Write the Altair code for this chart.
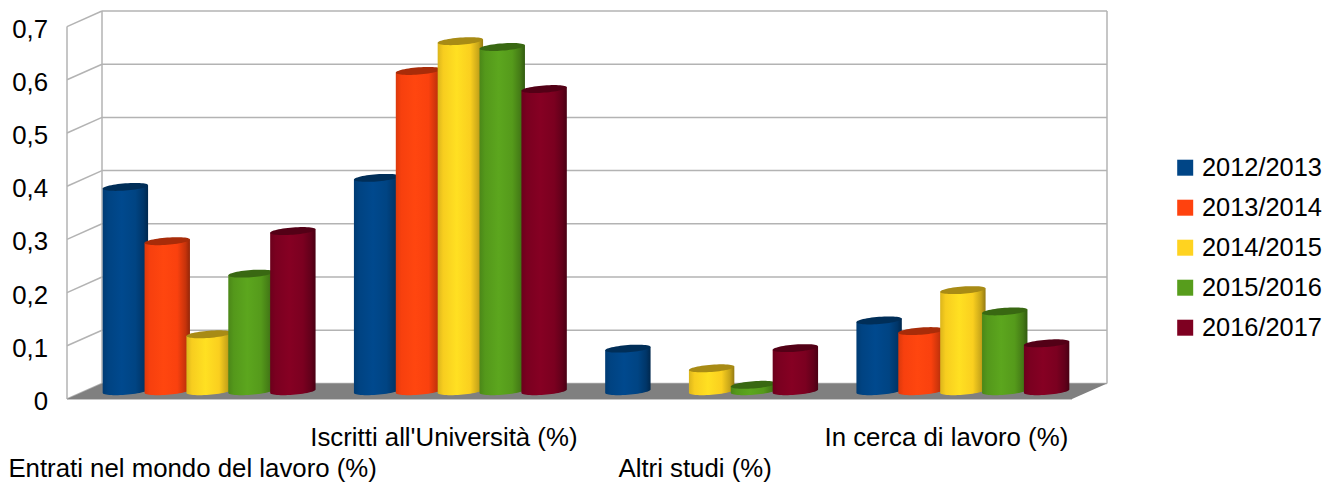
import math

import altair as alt
import pandas as pd

FONT = "Liberation Sans"
CATEGORIES = [
    "Entrati nel mondo del lavoro (%)",
    "Iscritti all'Università (%)",
    "Altri studi (%)",
    "In cerca di lavoro (%)",
]
YEARS = ["2012/2013", "2013/2014", "2014/2015", "2015/2016", "2016/2017"]
COLORS = ["#004586", "#ff420e", "#ffd320", "#579d1c", "#7e0021"]

V_2012 = [0.384, 0.401, 0.080, 0.133]
V_2013 = [0.282, 0.602, None, 0.113]
V_2014 = [0.107, 0.658, 0.043, 0.190]
V_2015 = [0.221, 0.647, 0.012, 0.150]
V_2016 = [0.301, 0.568, 0.081, 0.090]
SERIES = [V_2012, V_2013, V_2014, V_2015, V_2016]

TICKS = [0, 0.1, 0.2, 0.3, 0.4, 0.5, 0.6, 0.7]

# Pixel proportions of the oblique projection
PX_PER_GROUP = 251.25
PX_PER_UNIT = 532.0
PLOT_W = 1039
PLOT_H = 388
DEPTH_X = 35 / PX_PER_GROUP
DEPTH_Y = 15.6 / PX_PER_UNIT
N_GROUPS = len(CATEGORIES)
PITCH = 1 / 6
RADIUS_X = 22.7 / PX_PER_GROUP
ELLIPSE_B = 3.6 / PX_PER_UNIT
ELLIPSE_S = 1.7 / PX_PER_UNIT
CYLINDER_SHIFT = -1 / PX_PER_GROUP

X_SCALE = alt.Scale(domain=[0, PLOT_W / PX_PER_GROUP], nice=False, zero=False)
Y_SCALE = alt.Scale(domain=[0, PLOT_H / PX_PER_UNIT], nice=False, zero=False)

# Value axis with decimal commas, shared by every layer
Y_AXIS = alt.Axis(
    values=TICKS, title=None, domain=False, ticks=False, grid=False,
    labelExpr="replace(format(datum.value, '.1~f'), '.', ',')",
    labelFont=FONT, labelFontSize=25.8, labelColor="#000000",
    labelPadding=19.5, labelOffset=2.5, labelFlush=False, labelOverlap=False,
)


def qx(field="x"):
    return alt.X(f"{field}:Q", scale=X_SCALE, axis=None)


def qy(field="y"):
    return alt.Y(f"{field}:Q", scale=Y_SCALE, axis=Y_AXIS)


def shade(hex_color, factor):
    channels = [int(hex_color[i:i + 2], 16) for i in (1, 3, 5)]
    return "#" + "".join(f"{min(255, round(c * factor)):02x}" for c in channels)


def body_gradient(color):
    stops = [(0.0, 0.86), (0.12, 0.97), (0.42, 1.06), (0.72, 0.98), (0.9, 0.78), (1.0, 0.58)]
    return alt.LinearGradient(
        gradient="linear", x1=0, x2=1, y1=0, y2=0,
        stops=[alt.GradientStop(offset=o, color=shade(color, f)) for o, f in stops],
    )


# Outline samples across one cylinder, from its left edge to its right edge
SAMPLES = [-math.cos(math.pi * k / 28) for k in range(29)]


def cylinder_rows(values):
    body, cap = [], []
    for g, value in enumerate(values):
        if value is None:
            continue
        series_index = SERIES.index(values)
        xc = g + 0.5 + DEPTH_X / 2 + (series_index - 2) * PITCH + CYLINDER_SHIFT
        base = 0 + DEPTH_Y / 2
        top = value + base
        for t in SAMPLES:
            half = ELLIPSE_B * math.sqrt(max(0.0, 1 - t * t))
            lean = ELLIPSE_S * t
            x = xc + RADIUS_X * t
            body.append({"g": g, "x": x, "y": top + lean, "y2": base + lean - half})
            cap.append({"g": g, "x": x, "y": top + lean + half, "y2": top + lean - half})
    return pd.DataFrame(body), pd.DataFrame(cap)


# Side wall and back wall lines
rule_rows = []
for tick in TICKS:
    rule_rows.append({"x": 0, "y": tick, "x2": DEPTH_X, "y2": tick + DEPTH_Y})
    rule_rows.append({"x": DEPTH_X, "y": tick + DEPTH_Y, "x2": N_GROUPS + DEPTH_X, "y2": tick + DEPTH_Y})
rule_rows.append({"x": 0, "y": 0, "x2": 0, "y2": TICKS[-1]})
rule_rows.append({"x": DEPTH_X, "y": DEPTH_Y, "x2": DEPTH_X, "y2": TICKS[-1] + DEPTH_Y})
rule_rows.append({"x": N_GROUPS + DEPTH_X, "y": DEPTH_Y, "x2": N_GROUPS + DEPTH_X, "y2": TICKS[-1] + DEPTH_Y})
rule_rows.append({"x": 0, "y": 0, "x2": N_GROUPS, "y2": 0})

walls = alt.Chart(pd.DataFrame(rule_rows)).mark_rule(color="#b3b3b3", strokeWidth=1.5).encode(
    x=qx(), y=qy(), x2="x2:Q", y2="y2:Q"
)

floor_df = pd.DataFrame({
    "x": [0, DEPTH_X, N_GROUPS, N_GROUPS + DEPTH_X],
    "y": [0, DEPTH_Y, DEPTH_Y, DEPTH_Y],
    "y2": [0, 0, 0, DEPTH_Y],
})
floor = alt.Chart(floor_df).mark_area(color="#808080", interpolate="linear").encode(
    x=qx(), y=qy(), y2="y2:Q"
)

# Legend driven by the year colour scale
legend_df = pd.DataFrame({"year": YEARS})
legend_layer = alt.Chart(legend_df).mark_square(size=0, filled=True).encode(
    color=alt.Color(
        "year:N",
        scale=alt.Scale(domain=YEARS, range=COLORS),
        legend=alt.Legend(
            orient="none", legendX=1105.5, legendY=144, title=None,
            symbolType="square", symbolSize=256, symbolStrokeWidth=0, symbolOpacity=1,
            labelFont=FONT, labelFontSize=25.4, labelColor="#000000", labelLimit=300,
            labelOffset=4, rowPadding=13,
        ),
    )
)

cylinders = []
for values, color in zip(SERIES, COLORS):
    body_df, cap_df = cylinder_rows(values)
    cylinders.append(
        alt.Chart(body_df).mark_area(fill=body_gradient(color), interpolate="linear").encode(
            x=qx(), y=qy(), y2="y2:Q", detail="g:N"
        )
    )
    cylinders.append(
        alt.Chart(cap_df).mark_area(fill=shade(color, 0.66), interpolate="linear").encode(
            x=qx(), y=qy(), y2="y2:Q", detail="g:N"
        )
    )

# Category labels sit on two alternating rows below the floor
label_df = pd.DataFrame({
    "x": [g + 0.5 for g in range(N_GROUPS)],
    "y": [0] * N_GROUPS,
    "label": CATEGORIES,
})
text_style = dict(font=FONT, fontSize=25.8, color="#000000", align="center", baseline="middle")
labels_low = alt.Chart(label_df.iloc[::2]).mark_text(yOffset=70, **text_style).encode(
    x=qx(), y=qy(), text="label:N"
)
labels_high = alt.Chart(label_df.iloc[1::2]).mark_text(yOffset=38.5, **text_style).encode(
    x=qx(), y=qy(), text="label:N"
)

chart = alt.layer(
    walls, floor, legend_layer, *cylinders, labels_low, labels_high
).properties(
    width=PLOT_W,
    height=PLOT_H,
    padding={"left": 67, "top": 11, "right": 218, "bottom": 83},
    autosize=alt.AutoSizeParams(type="none"),
    background="#ffffff",
).configure_view(stroke=None)

chart.save("out.html", embed_options={"renderer": "svg", "actions": False})
